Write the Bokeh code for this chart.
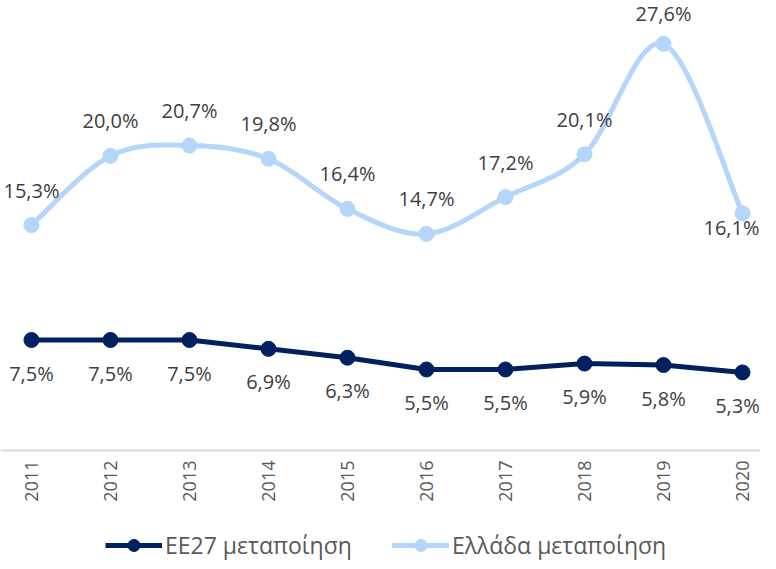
import numpy as np
from bokeh.plotting import figure
from bokeh.models import Range1d, FixedTicker, Legend, LegendItem, ColumnDataSource, LabelSet
from bokeh.core.properties import value
from bokeh.embed import file_html
from bokeh.resources import INLINE

# ---- data ----
years = [2011, 2012, 2013, 2014, 2015, 2016, 2017, 2018, 2019, 2020]
eu27 = [7.5, 7.5, 7.5, 6.9, 6.3, 5.5, 5.5, 5.9, 5.8, 5.3]
greece = [15.3, 20.0, 20.7, 19.8, 16.4, 14.7, 17.2, 20.1, 27.6, 16.1]
eu_name = "ΕΕ27 μεταποίηση"
gr_name = "Ελλάδα μεταποίηση"

NAVY = "#002060"
LIGHT = "#B4D6FA"
FONT = "Open Sans"

def fmt(v):
    return f"{v:.1f}".replace(".", ",") + "%"

W, H = 760, 561
AXIS_Y = 450       # pixel row of the value 0 inside the figure
ppu = 442 / 30.0   # pixels per percentage point
ymax = AXIS_Y / ppu
ymin = -(H - AXIS_Y) / ppu

p = figure(width=W, height=H, output_backend="svg", toolbar_location=None,
           x_range=Range1d(2011 - 0.392, 2020 + 0.228), y_range=Range1d(ymin, ymax),
           y_axis_location=None, min_border_left=0, min_border_right=0,
           min_border_top=0, min_border_bottom=0)
p.outline_line_color = None
p.xgrid.visible = False
p.ygrid.visible = False
p.background_fill_color = "white"
p.border_fill_color = "white"

ax = p.xaxis[0]
ax.fixed_location = 0
ax.ticker = FixedTicker(ticks=years)
ax.major_label_orientation = np.pi / 2
ax.major_tick_line_color = None
ax.minor_tick_line_color = None
ax.axis_line_color = "#D9D9D9"
ax.axis_line_width = 2
ax.major_label_standoff = 4
ax.major_label_text_font = FONT
ax.major_label_text_font_size = "18px"
ax.major_label_text_color = "#595959"

# ---- Greece smoothed line (Bezier through data points) ----
gx = np.array(years, dtype=float)
gy = np.array(greece, dtype=float)
px = np.concatenate([[gx[0]], gx, [gx[-1]]])
py = np.concatenate([[gy[0]], gy, [gy[-1]]])
x0, y0 = gx[:-1], gy[:-1]
x1, y1 = gx[1:], gy[1:]
cx0 = x0 + (px[2:-1] - px[:-3]) / 6.0
cy0 = y0 + (py[2:-1] - py[:-3]) / 6.0
cx1 = x1 - (px[3:] - px[1:-2]) / 6.0
cy1 = y1 - (py[3:] - py[1:-2]) / 6.0
gr_curve = p.bezier(x0=x0, y0=y0, x1=x1, y1=y1, cx0=cx0, cy0=cy0, cx1=cx1, cy1=cy1,
                    line_color=LIGHT, line_width=5, line_cap="round")
gr_pts = p.scatter(x=years, y=greece, size=15, fill_color=LIGHT, line_color=LIGHT)

# ---- EU27 line ----
eu_line = p.line(x=years, y=eu27, line_color=NAVY, line_width=5, line_join="round")
eu_pts = p.scatter(x=years, y=eu27, size=15, fill_color=NAVY, line_color=NAVY)

# ---- data labels ----
gr_src = ColumnDataSource(dict(x=years, y=greece, t=[fmt(v) for v in greece],
                               xo=[0] * 9 + [-11], yo=[35] * 8 + [30, -14]))
eu_src = ColumnDataSource(dict(x=years, y=eu27, t=[fmt(v) for v in eu27],
                               xo=[0] * 9 + [-5]))
common = dict(x="x", y="y", text="t", text_align="center", text_baseline="middle",
              text_font=value(FONT), text_font_size="20px", text_color="#404040")
p.add_layout(LabelSet(source=gr_src, x_offset="xo", y_offset="yo", **common))
p.add_layout(LabelSet(source=eu_src, x_offset="xo", y_offset=-33, **common))

legend = Legend(items=[LegendItem(label=eu_name, renderers=[eu_line, eu_pts]),
                       LegendItem(label=gr_name, renderers=[gr_curve, gr_pts])],
                orientation="horizontal", location=(105, 0),
                glyph_width=57, glyph_height=30, label_standoff=3, spacing=40,
                padding=0, margin=0, border_line_color=None, background_fill_alpha=0,
                label_text_font=FONT, label_text_font_size="23px",
                label_text_color="#595959", label_text_baseline="middle")
p.add_layout(legend, "center")

open("out.html", "w").write(file_html(p, INLINE))
